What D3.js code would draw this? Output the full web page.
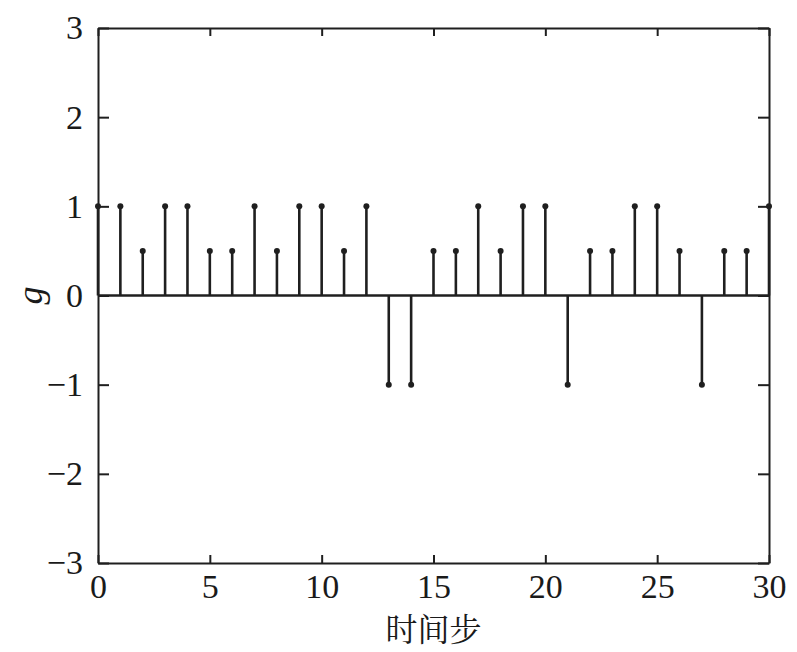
<!DOCTYPE html>
<html>
<head>
<meta charset="utf-8">
<script src="https://cdn.jsdelivr.net/npm/d3@7"></script>
<style>
body { margin: 0; background: #fff; }
svg text { font-family: "Liberation Serif", "DejaVu Serif", serif; fill: #1a1a1a; }
</style>
</head>
<body>
<div id="chart"></div>
<script>
// step index and g value
var steps = d3.range(0, 31);
var gValues = [1, 1, 0.5, 1, 1, 0.5, 0.5, 1, 0.5, 1, 1, 0.5, 1, -1, -1,
               0.5, 0.5, 1, 0.5, 1, 1, -1, 0.5, 0.5, 1, 1, 0.5, -1, 0.5, 0.5, 1];
var xTicks = [0, 5, 10, 15, 20, 25, 30];
var yTicks = [-3, -2, -1, 0, 1, 2, 3];

var width = 797, height = 652;
var margin = {left: 98, right: 28, top: 28, bottom: 89};
var ink = "#1f1f1f";

var svg = d3.select("#chart")
  .append("svg")
  .attr("width", width)
  .attr("height", height);

var x = d3.scaleLinear().domain([0, 30]).range([margin.left, width - margin.right]);
var y = d3.scaleLinear().domain([-3, 3]).range([height - margin.bottom, margin.top]);

var fmt = function(d){ return d < 0 ? "\u2212" + Math.abs(d) : String(d); };

// axes with inward ticks on all four sides
var axB = svg.append("g").attr("transform", "translate(0," + y(-3) + ")")
  .call(d3.axisBottom(x).tickValues(xTicks).tickSizeInner(-8).tickSizeOuter(0).tickPadding(11).tickFormat(fmt));
var axT = svg.append("g").attr("transform", "translate(0," + y(3) + ")")
  .call(d3.axisTop(x).tickValues(xTicks).tickSizeInner(-8).tickSizeOuter(0).tickFormat(""));
var axL = svg.append("g").attr("transform", "translate(" + x(0) + ",0)")
  .call(d3.axisLeft(y).tickValues(yTicks).tickSizeInner(-11).tickSizeOuter(0).tickPadding(15).tickFormat(fmt));
var axR = svg.append("g").attr("transform", "translate(" + x(30) + ",0)")
  .call(d3.axisRight(y).tickValues(yTicks).tickSizeInner(-11).tickSizeOuter(0).tickFormat(""));

[axB, axT, axL, axR].forEach(function(a){
  a.select(".domain").attr("stroke", ink).attr("stroke-width", 2);
  a.selectAll(".tick line").attr("stroke", ink).attr("stroke-width", 2);
  a.selectAll("text").attr("font-size", "34px").attr("fill", ink);
});
axB.selectAll("text").attr("dy", "0.71em");

// baseline
svg.append("line")
  .attr("x1", x(0)).attr("x2", x(30))
  .attr("y1", y(0)).attr("y2", y(0))
  .attr("stroke", ink).attr("stroke-width", 2.5);

// stems
svg.selectAll("line.stem")
  .data(steps)
  .enter()
  .append("line")
  .attr("class", "stem")
  .attr("x1", function(d){ return x(d); })
  .attr("x2", function(d){ return x(d); })
  .attr("y1", y(0))
  .attr("y2", function(d){ return y(gValues[d]); })
  .attr("stroke", ink)
  .attr("stroke-width", 2.6);

// markers
svg.selectAll("circle.dot")
  .data(steps)
  .enter()
  .append("circle")
  .attr("class", "dot")
  .attr("cx", function(d){ return x(d); })
  .attr("cy", function(d){ return y(gValues[d]); })
  .attr("r", 3)
  .attr("fill", ink);

// axis labels
svg.append("text")
  .attr("x", (x(0) + x(30)) / 2)
  .attr("y", 641)
  .attr("text-anchor", "middle")
  .attr("font-size", "32px")
  .style("font-family", "'Noto Serif CJK SC', 'Noto Sans CJK SC', sans-serif")
  .attr("fill", ink)
  .text("时间步");

svg.append("text")
  .attr("transform", "translate(42," + y(0) + ") rotate(-90)")
  .attr("text-anchor", "middle")
  .attr("font-size", "36px")
  .attr("font-style", "italic")
  .attr("fill", ink)
  .text("g");
</script>
</body>
</html>
